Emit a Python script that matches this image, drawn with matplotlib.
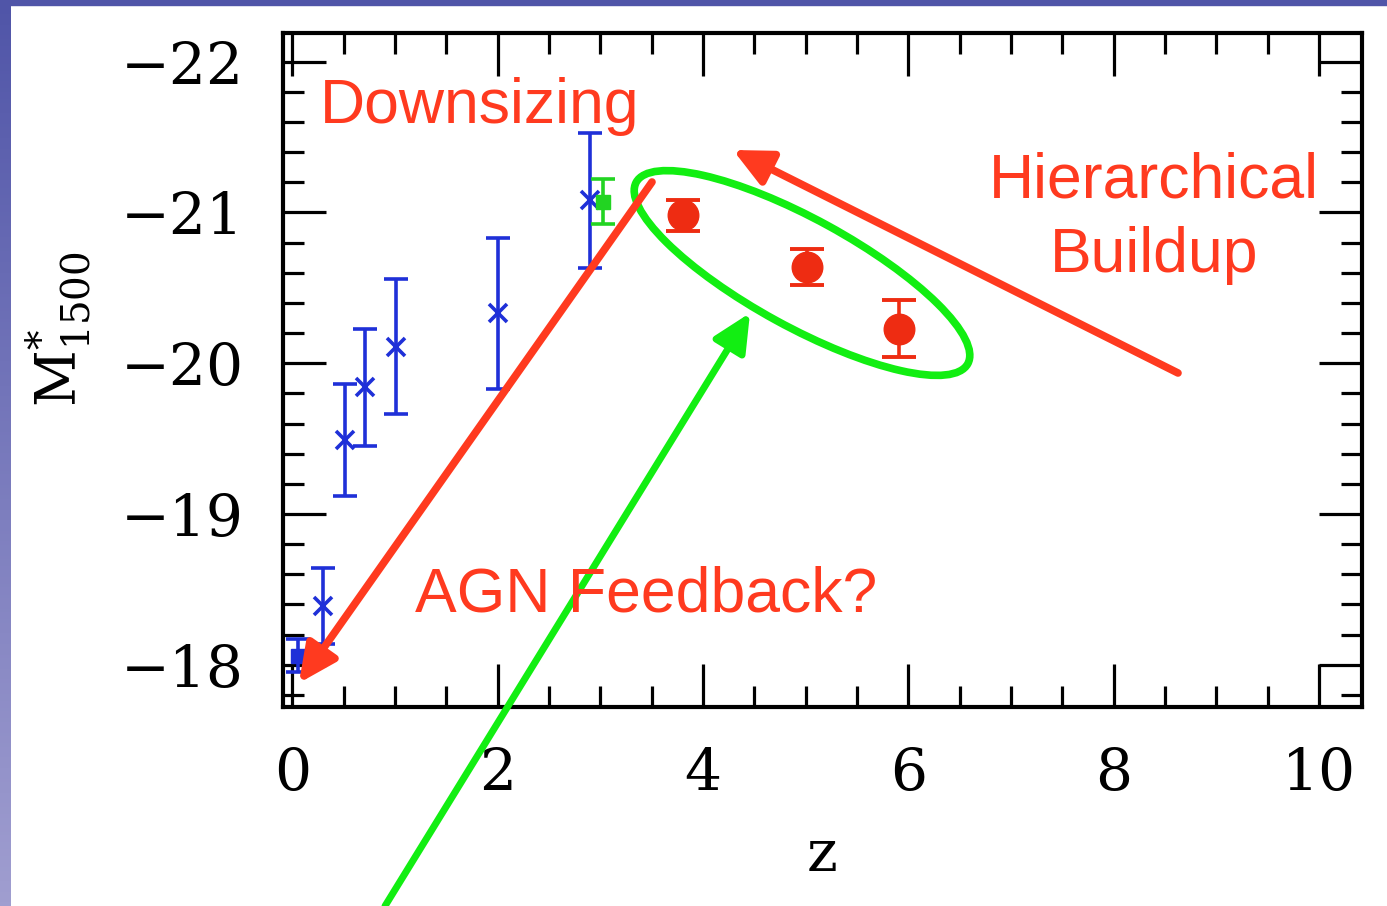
import numpy as np
import matplotlib
matplotlib.use("Agg")
import matplotlib.pyplot as plt
from matplotlib.patches import Ellipse, FancyArrowPatch, Rectangle
from matplotlib.ticker import MultipleLocator

# blue points (crosses) with errors
blue_z = [0.30, 0.51, 0.71, 1.01, 2.00, 2.90]
blue_m = [-18.39, -19.49, -19.84, -20.11, -20.33, -21.08]
blue_err = [0.25, 0.37, 0.39, 0.45, 0.50, 0.45]

# local point (filled square)
local_z = [0.06]
local_m = [-18.06]
local_err = [0.11]

# green square
green_z = [3.03]
green_m = [-21.07]
green_err = [0.15]

# red circles
red_z = [3.81, 5.01, 5.91]
red_m = [-20.98, -20.64, -20.23]
red_err = [0.10, 0.12, 0.19]

x_ticks = [0, 2, 4, 6, 8, 10]
y_ticks = [-22, -21, -20, -19, -18]

RED = "#ff3a1f"
GREEN = "#12ee12"
BLUE = "#1f30d8"

W, H = 1387, 906
fig = plt.figure(figsize=(W / 100, H / 100), dpi=100)
fig.patch.set_facecolor("white")

# slide border: gradient strip on the left, band at the top
bar = fig.add_axes([0, 0, 11 / W, 1], zorder=-5)
top_c = np.array([80, 85, 168]) / 255
bot_c = np.array([160, 158, 208]) / 255
t = np.linspace(0, 1, 256)[:, None]
grad = (top_c * (1 - t) + bot_c * t)[:, None, :]
bar.imshow(grad, aspect="auto", extent=[0, 1, 0, 1])
bar.axis("off")
fig.patches.append(Rectangle((0, 1 - 5 / H), 1, 5 / H, transform=fig.transFigure,
                             color=top_c, zorder=-5))

ax = fig.add_axes([283 / W, 1 - 707 / H, (1362 - 283) / W, (707 - 33) / H])

ax.errorbar(blue_z, blue_m, yerr=blue_err, fmt="x", color=BLUE, ms=13, mew=2.6,
            elinewidth=2.6, capsize=8.5, capthick=2.6)
ax.errorbar(local_z, local_m, yerr=local_err, fmt="s", color=BLUE, ms=10.5,
            elinewidth=2.6, capsize=8.5, capthick=2.6)
ax.errorbar(green_z, green_m, yerr=green_err, fmt="s", color="#22d422", ms=10.5,
            elinewidth=2.6, capsize=8.5, capthick=2.6)
ax.errorbar(red_z, red_m, yerr=red_err, fmt="o", color="#ee2c12", ms=22,
            elinewidth=2.6, capsize=12, capthick=2.8)

ax.set_xlim(-0.09, 10.42)
ax.set_ylim(-17.72, -22.19)
ax.set_xticks(x_ticks)
ax.set_yticks(y_ticks)
ax.xaxis.set_minor_locator(MultipleLocator(0.5))
ax.yaxis.set_minor_locator(MultipleLocator(0.2))
ax.tick_params(which="both", direction="in", top=True, right=True, width=2.3)
ax.tick_params(which="major", length=31, pad=28, labelsize=42)
ax.tick_params(which="minor", length=15)
for lab in ax.get_xticklabels() + ax.get_yticklabels():
    lab.set_fontfamily("DejaVu Serif")
for s in ax.spines.values():
    s.set_linewidth(3)

ax.set_xlabel("z", fontsize=42, fontfamily="DejaVu Serif", labelpad=18)
ax.set_ylabel(r"$\mathregular{M^{*}_{1500}}$", fontsize=40, fontfamily="DejaVu Serif")
ax.yaxis.set_label_coords(-0.175, 0.56)

# annotations, positioned in slide pixels (origin top-left)
px = fig.dpi_scale_trans


def p(x, y):
    return (x / 100, (H - y) / 100)


def arrow(tail, tip, color, lw):
    a = FancyArrowPatch(p(*tail), p(*tip), transform=px,
                        arrowstyle="-|>,head_length=23,head_width=11",
                        mutation_scale=1, color=color, lw=lw,
                        shrinkA=0, shrinkB=0, zorder=5)
    fig.add_artist(a)


fig.add_artist(Ellipse(p(802, 273), 3.78, 1.08, angle=-28.7, transform=px,
                       fill=False, edgecolor=GREEN, lw=5.5, zorder=5))

arrow((652, 182), (299, 683), RED, 5.5)
arrow((1178, 373), (733, 150), RED, 5.5)
arrow((385, 906), (750, 313), GREEN, 5)

font = dict(family="Liberation Sans", fontsize=45, color=RED, transform=px, zorder=6)
fig.text(*p(320, 123), "Downsizing", ha="left", va="baseline", **font)
fig.text(*p(1154, 197), "Hierarchical", ha="center", va="baseline", **font)
fig.text(*p(1154, 272), "Buildup", ha="center", va="baseline", **font)
fig.text(*p(415, 612), "AGN Feedback?", ha="left", va="baseline", **font)

fig.savefig("out.png", dpi=100)
